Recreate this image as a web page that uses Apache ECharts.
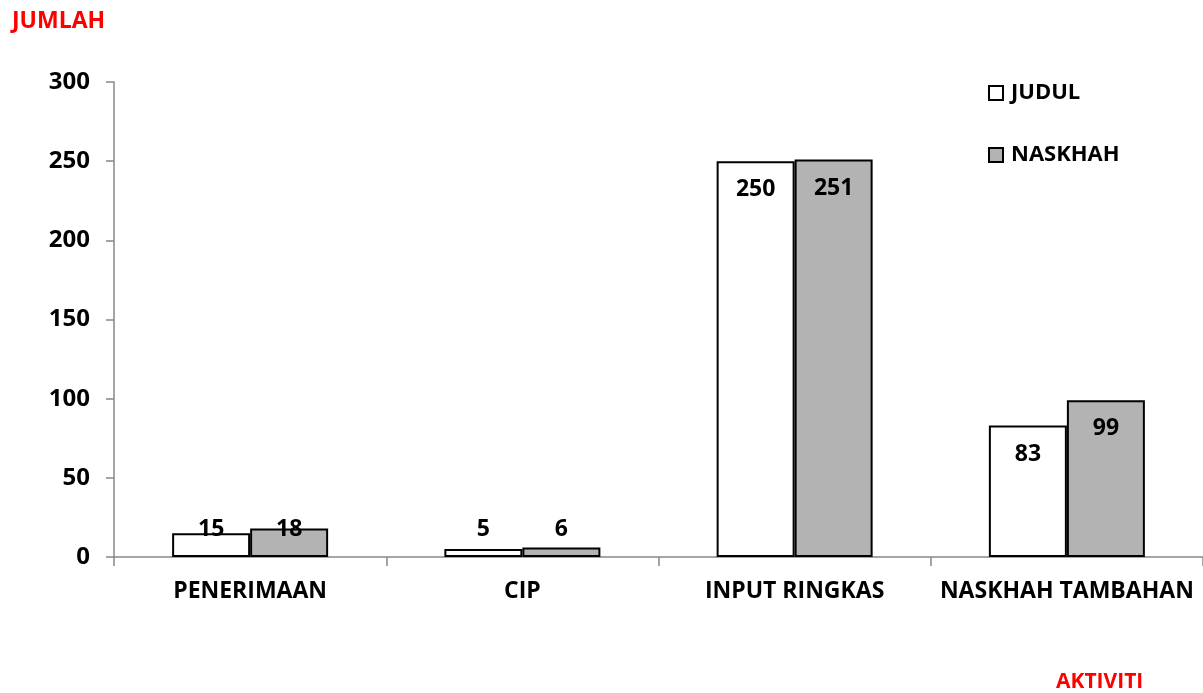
<!DOCTYPE html>
<html><head><meta charset="utf-8">
<script src="https://cdn.jsdelivr.net/npm/echarts@6/dist/echarts.min.js"></script>
<style>html,body{margin:0;padding:0;background:#fff}#c{width:1203px;height:693px}</style>
</head><body><div id="c"></div>
<script>
const categories = ['PENERIMAAN', 'CIP', 'INPUT RINGKAS', 'NASKHAH TAMBAHAN'];
const judul = [15, 5, 250, 83];
const naskhah = [18, 6, 251, 99];
const yTicks = [0, 50, 100, 150, 200, 250, 300];

const FONT = '"Open Sans", Lato, sans-serif';
function mk(vals) {
  return vals.map(v => v < 30
    ? { value: v, label: { position: 'insideBottom', distance: 16 } }
    : { value: v });
}
const labelStyle = { show: true, position: 'insideTop', distance: 17, fontFamily: FONT, fontWeight: 'bold', fontSize: 23, color: '#000' };
const chart = echarts.init(document.getElementById('c'));
chart.setOption({
  animation: false,
  backgroundColor: '#fff',
  textStyle: { fontFamily: FONT },
  title: [
    { text: 'JUMLAH', left: 7, top: 5, textStyle: { color: '#ff0000', fontFamily: FONT, fontWeight: 'bold', fontSize: 23 } },
    { text: 'AKTIVITI', left: 1051, top: 667, textStyle: { color: '#ff0000', fontFamily: FONT, fontWeight: 'bold', fontSize: 21 } }
  ],
  legend: {
    orient: 'vertical', left: 983, top: 77, itemWidth: 14, itemHeight: 14, itemGap: 40, icon: 'rect',
    textStyle: { fontFamily: FONT, fontWeight: 'bold', fontSize: 22, color: '#000', padding: [0, 0, 0, 3] },
    data: ['JUDUL', 'NASKHAH']
  },
  grid: { left: 114, right: 0, top: 82, bottom: 136, containLabel: false },
  xAxis: {
    type: 'category', data: categories,
    axisLine: { lineStyle: { color: '#888', width: 1.5 } },
    axisTick: { show: true, length: 9, lineStyle: { color: '#888', width: 1.5 } },
    axisLabel: { margin: 23, color: '#000', fontFamily: FONT, fontWeight: 'bold', fontSize: 23, interval: 0 }
  },
  yAxis: {
    type: 'value', min: yTicks[0], max: yTicks[yTicks.length - 1], interval: 50,
    splitLine: { show: false },
    axisLine: { show: true, lineStyle: { color: '#888', width: 1.5 } },
    axisTick: { show: true, length: 8, lineStyle: { color: '#888', width: 1.5 } },
    axisLabel: { margin: 24, color: '#000', fontFamily: FONT, fontWeight: 'bold', fontSize: 24 }
  },
  series: [
    { name: 'JUDUL', type: 'bar', data: mk(judul), barWidth: 78, barGap: '0%',
      itemStyle: { color: '#ffffff', borderColor: '#000', borderWidth: 2 },
      label: labelStyle },
    { name: 'NASKHAH', type: 'bar', data: mk(naskhah), barWidth: 78,
      itemStyle: { color: '#b3b3b3', borderColor: '#000', borderWidth: 2 },
      label: labelStyle }
  ]
});
</script></body></html>
